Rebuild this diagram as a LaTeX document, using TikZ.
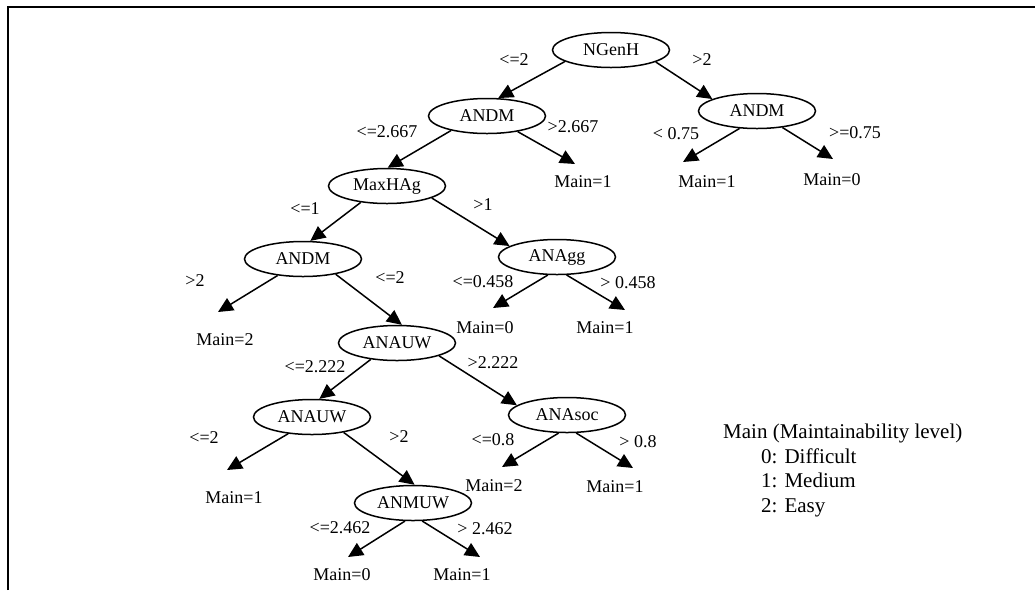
\documentclass[tikz,border=0pt]{standalone}
\usepackage{fontspec}
\setmainfont{Liberation Serif}
\usetikzlibrary{shapes.geometric,arrows.meta}
\begin{document}
\begin{tikzpicture}[x=1pt,y=-1pt,
    attr/.style={ellipse, draw, line width=1.5pt, minimum width=117pt, minimum height=35pt, inner sep=0pt, font=\fontsize{18}{20}\selectfont},
    leaf/.style={inner sep=3pt, font=\fontsize{18}{20}\selectfont},
    cond/.style={inner sep=0pt, font=\fontsize{18}{20}\selectfont},
    branch/.style={line width=1.5pt, -{Triangle[length=15pt,width=14pt]}}]
    \useasboundingbox (0,0) rectangle (1035,590);
    \draw[line width=2pt] (8,590) -- (8,7) -- (1035,7);

    \node[attr] (root) at (611,50) {NGenH};
    \node[attr] (andmA) at (487,116) {ANDM};
    \node[attr] (andmB) at (757,111) {ANDM};
    \node[attr] (maxh) at (387,186) {MaxHAg};
    \node[attr] (andmC) at (303,259) {ANDM};
    \node[attr] (anagg) at (557,257) {ANAgg};
    \node[attr] (anauwA) at (397,343) {ANAUW};
    \node[attr] (anauwB) at (312,417) {ANAUW};
    \node[attr] (anasoc) at (567,415) {ANAsoc};
    \node[attr] (anmuw) at (413,503) {ANMUW};

    \node[leaf] (leafA) at (583,182) {Main=1};
    \node[leaf] (leafB) at (707,182) {Main=1};
    \node[leaf] (leafC) at (832,180) {Main=0};
    \node[leaf] (leafD) at (225,340) {Main=2};
    \node[leaf] (leafE) at (485,328) {Main=0};
    \node[leaf] (leafF) at (605,328) {Main=1};
    \node[leaf] (leafG) at (234,498) {Main=1};
    \node[leaf] (leafH) at (494,486) {Main=2};
    \node[leaf] (leafI) at (615,487) {Main=1};
    \node[leaf] (leafJ) at (342,575) {Main=0};
    \node[leaf] (leafK) at (462,575) {Main=1};

    \draw[branch] (root.194) -- (andmA.58);
    \draw[branch] (root.345) -- (andmB.165);
    \draw[branch] (andmA.202) -- (maxh.88);
    \draw[branch] (andmA.333) -- ([shift={(-8,-18)}]leafA.center);
    \draw[branch] (andmB.225) -- ([shift={(-24,-20)}]leafB.center);
    \draw[branch] (andmB.327) -- ([shift={(1,-21)}]leafC.center);
    \draw[branch] (maxh.212) -- (andmC.68);
    \draw[branch] (maxh.345) -- (anagg.167);
    \draw[branch] (andmC.213) -- ([shift={(-7,-28)}]leafD.center);
    \draw[branch] (andmC.335) -- (anauwA.75);
    \draw[branch] (anagg.243) -- ([shift={(8,-20)}]leafE.center);
    \draw[branch] (anagg.298) -- ([shift={(20,-18)}]leafF.center);
    \draw[branch] (anauwA.212) -- (anauwB.68);
    \draw[branch] (anauwA.343) -- (anasoc.169);
    \draw[branch] (anauwB.215) -- ([shift={(-7,-28)}]leafG.center);
    \draw[branch] (anauwB.334) -- (anmuw.85);
    \draw[branch] (anasoc.245) -- ([shift={(8,-19)}]leafH.center);
    \draw[branch] (anasoc.297) -- ([shift={(18,-19)}]leafI.center);
    \draw[branch] (anmuw.246) -- ([shift={(6,-18)}]leafJ.center);
    \draw[branch] (anmuw.297) -- ([shift={(18,-18)}]leafK.center);

    \node[cond] (cA) at (514,60) {<=2};
    \node[cond] (cB) at (702,60) {>2};
    \node[cond] (cC) at (387,132) {<=2.667};
    \node[cond] (cD) at (573,127) {>2.667};
    \node[cond] (cE) at (676,134) {< 0.75};
    \node[cond] (cF) at (855,133) {>=0.75};
    \node[cond] (cG) at (305,209) {<=1};
    \node[cond] (cH) at (483,205) {>1};
    \node[cond] (cI) at (195,281) {>2};
    \node[cond] (cJ) at (390,278) {<=2};
    \node[cond] (cK) at (483,282) {<=0.458};
    \node[cond] (cL) at (628,283) {> 0.458};
    \node[cond] (cM) at (315,367) {<=2.222};
    \node[cond] (cN) at (493,363) {>2.222};
    \node[cond] (cO) at (204,438) {<=2};
    \node[cond] (cP) at (399,437) {>2};
    \node[cond] (cQ) at (493,440) {<=0.8};
    \node[cond] (cR) at (638,442) {> 0.8};
    \node[cond] (cS) at (340,528) {<=2.462};
    \node[cond] (cT) at (485,529) {> 2.462};

    \node[anchor=north west, inner sep=0pt, align=left, font=\fontsize{21}{24.5}\selectfont] (legend) at (723,424)
        {Main (Maintainability level)\\\hspace*{38pt}0: Difficult\\\hspace*{38pt}1: Medium\\\hspace*{38pt}2: Easy};
\end{tikzpicture}
\end{document}
